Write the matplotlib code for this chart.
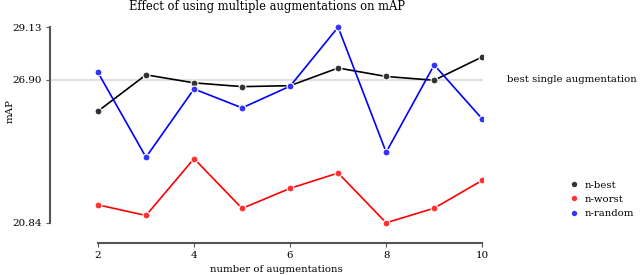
import matplotlib
matplotlib.use('Agg')
import matplotlib.pyplot as plt
from matplotlib.lines import Line2D

plt.rcParams['font.family'] = 'DejaVu Serif'

n_aug = [2, 3, 4, 5, 6, 7, 8, 9, 10]
n_best = [25.57, 27.11, 26.77, 26.61, 26.65, 27.40, 27.04, 26.88, 27.87]
n_worst = [21.60, 21.15, 23.56, 21.45, 22.30, 22.95, 20.84, 21.46, 22.64]
n_random = [27.21, 23.62, 26.51, 25.71, 26.63, 29.13, 23.83, 27.53, 25.24]
best_single = 26.90

series = [
    ('n-best', n_best, 'black', '#333333'),
    ('n-worst', n_worst, 'red', '#ff3333'),
    ('n-random', n_random, 'blue', '#3333ff'),
]

fig = plt.figure(figsize=(6.4, 2.75), dpi=100)
ax = fig.add_axes([0.078, 0.116, 0.677, 0.811])

ax.axhline(best_single, color='#e0e0e0', lw=1.5, zorder=0)

handles = []
for name, vals, line_c, face_c in series:
    ax.plot(n_aug, vals, color=line_c, lw=1.2, marker='o', ms=5,
            mfc=face_c, mec='white', mew=0.8, zorder=2)
    handles.append(Line2D([], [], ls='none', marker='o', ms=4.5,
                          mfc=face_c, mec='white', mew=0.6, label=name))

ymin = min(n_worst + n_random + n_best)
ymax = max(n_worst + n_random + n_best)
ax.set_xlim(1.0, 10.02)
ax.set_ylim(ymin - 0.86, ymax + 0.3)
ax.set_xticks([2, 4, 6, 8, 10])
ax.set_yticks([ymin, best_single, ymax])
ax.set_yticklabels([f'{v:.2f}' for v in [ymin, best_single, ymax]])

for s in ['top', 'right']:
    ax.spines[s].set_visible(False)
ax.spines['left'].set_bounds(ymin, ymax)
ax.spines['bottom'].set_bounds(2, 10)
for s in ['left', 'bottom']:
    ax.spines[s].set_color('#555555')
    ax.spines[s].set_linewidth(1.5)
ax.tick_params(colors='#555555', labelcolor='black', labelsize=7.4, length=3, pad=3)

ax.set_xlabel('number of augmentations', fontsize=7.3)
ax.xaxis.set_label_coords(0.522, -0.1)
ax.set_ylabel('mAP', fontsize=7.3)
ax.yaxis.set_label_coords(-0.082, 0.59)
ax.set_title('Effect of using multiple augmentations on mAP', fontsize=8.3, pad=7)

fig.text(507 / 640, 1 - 79 / 275, 'best single augmentation', fontsize=7.3, va='center')
fig.legend(handles=handles, loc='center left', bbox_to_anchor=(0.874, 0.275),
           frameon=False, fontsize=7.3, handlelength=1, handletextpad=0.55,
           labelspacing=0.5)

fig.savefig('out.png', dpi=100)
